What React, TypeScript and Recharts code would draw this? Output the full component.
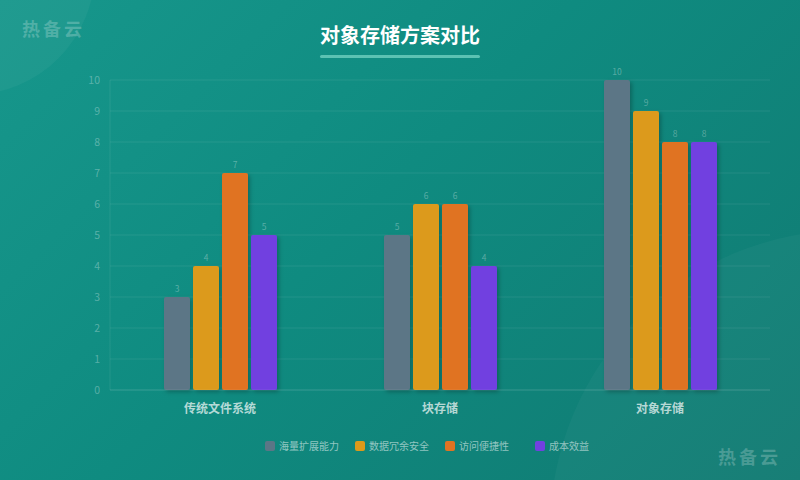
import React from "react";
import {
  BarChart,
  Bar,
  XAxis,
  YAxis,
  CartesianGrid,
  LabelList
} from "recharts";

const categories = ["传统文件系统", "块存储", "对象存储"];
const seriesNames = ["海量扩展能力", "数据冗余安全", "访问便捷性", "成本效益"];
const scalability = [3, 5, 10];
const redundancy = [4, 6, 9];
const accessibility = [7, 6, 8];
const costBenefit = [5, 4, 8];
const yTicks = [0, 1, 2, 3, 4, 5, 6, 7, 8, 9, 10];

const colors = ["#5b7686", "#dc9a1a", "#e07322", "#7141e0"];
const keys = ["s0", "s1", "s2", "s3"];

const data = categories.map((name, i) => ({
  name,
  s0: scalability[i],
  s1: redundancy[i],
  s2: accessibility[i],
  s3: costBenefit[i]
}));

const watermark: React.CSSProperties = {
  position: "absolute",
  fontSize: 18,
  fontWeight: 700,
  letterSpacing: 3,
  color: "rgba(255,255,255,0.22)",
  fontFamily: "'Noto Sans CJK SC', sans-serif"
};

const ChartLegend = () => (
  <div style={{ fontSize: 10, color: "rgba(255,255,255,0.55)" }}>
    {seriesNames.map((n, i) => (
      <div
        key={n}
        style={{
          position: "absolute",
          left: 265 + 90 * i,
          top: 438,
          display: "flex",
          alignItems: "center"
        }}
      >
        <span
          style={{
            width: 10,
            height: 10,
            borderRadius: 2,
            background: colors[i],
            marginRight: 4,
            display: "inline-block"
          }}
        />
        {n}
      </div>
    ))}
  </div>
);

const App = () => {
  return (
    <div
      style={{
        position: "absolute",
        left: 0,
        top: 0,
        width: 800,
        height: 480,
        overflow: "hidden",
        background: "linear-gradient(135deg, #17978c 0%, #0f8b80 45%, #117a72 100%)",
        fontFamily: "'Noto Sans CJK SC', sans-serif"
      }}
    >
      <div
        style={{
          position: "absolute",
          left: -155,
          top: -155,
          width: 250,
          height: 250,
          borderRadius: "50%",
          background: "rgba(255,255,255,0.04)"
        }}
      />
      <div
        style={{
          position: "absolute",
          left: 550,
          top: 230,
          width: 600,
          height: 600,
          borderRadius: "50%",
          background: "rgba(255,255,255,0.03)"
        }}
      />
      <div style={{ ...watermark, left: 22, top: 15 }}>热备云</div>
      <div style={{ ...watermark, left: 718, top: 443 }}>热备云</div>
      <div
        style={{
          position: "absolute",
          left: 0,
          top: 20,
          width: 800,
          textAlign: "center",
          color: "#ffffff",
          fontSize: 20,
          fontWeight: 700
        }}
      >
        对象存储方案对比
      </div>
      <div
        style={{
          position: "absolute",
          left: 320,
          top: 55,
          width: 160,
          height: 3,
          borderRadius: 2,
          background: "#5cc2b3"
        }}
      />
      <div style={{ position: "absolute", left: 0, top: 0 }}>
        <svg width={0} height={0} style={{ position: "absolute" }}>
          <defs>
            <filter id="barShadow" x="-30%" y="-10%" width="160%" height="130%">
              <feDropShadow dx="2" dy="2" stdDeviation="2" floodColor="#000" floodOpacity="0.25" />
            </filter>
          </defs>
        </svg>
        <BarChart
          width={800}
          height={480}
          data={data}
          margin={{ top: 80, right: 30, left: 70, bottom: 60 }}
          barSize={26}
          barGap={3}
        >
          <CartesianGrid vertical={false} stroke="rgba(255,255,255,0.08)" />
          <XAxis
            dataKey="name"
            height={30}
            tickLine={false}
            axisLine={{ stroke: "rgba(255,255,255,0.1)" }}
            tickMargin={8}
            tick={{ fill: "rgba(255,255,255,0.7)", fontSize: 12, fontWeight: 700 }}
          />
          <YAxis
            width={40}
            domain={[0, 10]}
            ticks={yTicks}
            tickLine={false}
            axisLine={{ stroke: "rgba(255,255,255,0.08)" }}
            tickMargin={4}
            tick={{ fill: "rgba(255,255,255,0.3)", fontSize: 10.5 }}
          />
          {keys.map((k, i) => (
            <Bar
              key={k}
              dataKey={k}
              name={seriesNames[i]}
              fill={colors[i]}
              radius={[2, 2, 2, 2]}
              filter="url(#barShadow)"
              isAnimationActive={false}
            >
              <LabelList
                dataKey={k}
                position="top"
                offset={5}
                fill="rgba(255,255,255,0.3)"
                fontSize={8.5}
              />
            </Bar>
          ))}
        </BarChart>
      </div>
      <ChartLegend />
    </div>
  );
};

export default App;
